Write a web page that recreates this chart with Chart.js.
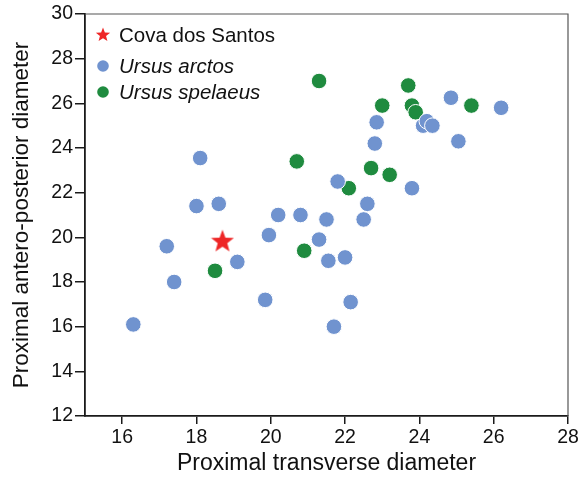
<!DOCTYPE html>
<html>
<head>
<meta charset="utf-8">
<script src="https://cdn.jsdelivr.net/npm/chart.js@4/dist/chart.umd.min.js"></script>
<style>
  html, body { margin: 0; padding: 0; background: #fff; }
  #wrap { width: 578px; height: 479px; }
</style>
</head>
<body>
<div id="wrap"><canvas id="chart" width="578" height="479"></canvas></div>
<script>
// Proximal transverse (x) vs antero-posterior (y) diameters, mm
const ARCTOS_X = [16.3, 17.2, 17.4, 18.1, 18.0, 18.6, 19.1, 19.85, 19.95, 20.2, 20.8, 21.5,
  21.3, 21.8, 22.6, 22.5, 22.85, 22.8, 23.8, 24.1, 24.2, 24.35, 24.85, 25.05, 26.2,
  21.55, 22.0, 22.15, 21.7];
const ARCTOS_Y = [16.1, 19.6, 18.0, 23.55, 21.4, 21.5, 18.9, 17.2, 20.1, 21.0, 21.0, 20.8,
  19.9, 22.5, 21.5, 20.8, 25.15, 24.2, 22.2, 25.0, 25.2, 25.0, 26.25, 24.3, 25.8,
  18.95, 19.1, 17.1, 16.0];

const SPELAEUS_X = [18.5, 20.9, 20.7, 21.3, 23.0, 23.7, 23.8, 23.9, 25.4, 22.7, 23.2, 22.1];
const SPELAEUS_Y = [18.5, 19.4, 23.4, 27.0, 25.9, 26.8, 25.9, 25.6, 25.9, 23.1, 22.8, 22.2];

const SANTOS_X = [18.7];
const SANTOS_Y = [19.85];

const X_TICKS = [16, 18, 20, 22, 24, 26, 28];
const Y_TICKS = [12, 14, 16, 18, 20, 22, 24, 26, 28, 30];

const BLUE = '#7093cf';
const GREEN = '#1f8b3f';
const RED = '#ee2626';
const AXIS = '#1a1a1a';
const FONT = "'Liberation Sans', Arial, sans-serif";

const toPoints = (xs, ys) => xs.map((x, i) => ({ x, y: ys[i] }));

function starPath(ctx, cx, cy, outer, inner) {
  ctx.beginPath();
  for (let i = 0; i < 10; i++) {
    const r = i % 2 === 0 ? outer : inner;
    const a = -Math.PI / 2 + i * Math.PI / 5;
    const px = cx + r * Math.cos(a);
    const py = cy + r * Math.sin(a);
    if (i === 0) ctx.moveTo(px, py); else ctx.lineTo(px, py);
  }
  ctx.closePath();
}

function makeStar(size) {
  const c = document.createElement('canvas');
  c.width = size; c.height = size;
  const g = c.getContext('2d');
  starPath(g, size / 2, size / 2 + size * 0.04, size / 2, size / 2 * 0.42);
  g.fillStyle = RED;
  g.fill();
  return c;
}

const bigStar = makeStar(24);

// top/right frame + in-plot legend
const extras = {
  id: 'extras',
  afterDraw(chart) {
    const { ctx, chartArea: a } = chart;
    ctx.save();
    ctx.strokeStyle = '#555';
    ctx.lineWidth = 1.2;
    ctx.beginPath();
    ctx.moveTo(a.left, a.top);
    ctx.lineTo(a.right, a.top);
    ctx.lineTo(a.right, a.bottom);
    ctx.stroke();

    const lx = 103, tx = 119;
    starPath(ctx, lx, 35, 7.5, 3.2);
    ctx.fillStyle = RED;
    ctx.fill();
    ctx.beginPath();
    ctx.arc(lx, 66, 5.8, 0, Math.PI * 2);
    ctx.fillStyle = BLUE;
    ctx.fill();
    ctx.beginPath();
    ctx.arc(lx, 92, 5.8, 0, Math.PI * 2);
    ctx.fillStyle = GREEN;
    ctx.fill();

    ctx.fillStyle = '#111';
    ctx.textBaseline = 'middle';
    ctx.font = '20.5px ' + FONT;
    ctx.fillText('Cova dos Santos', tx, 36);
    ctx.font = 'italic 20.5px ' + FONT;
    ctx.fillText('Ursus arctos', tx, 67);
    ctx.fillText('Ursus spelaeus', tx, 93);
    ctx.restore();
  }
};

new Chart(document.getElementById('chart'), {
  type: 'scatter',
  data: {
    datasets: [
      {
        label: 'Ursus spelaeus',
        data: toPoints(SPELAEUS_X, SPELAEUS_Y),
        backgroundColor: GREEN,
        borderColor: '#ffffff',
        borderWidth: 1,
        pointRadius: 7.8,
        order: 3,
      },
      {
        label: 'Ursus arctos',
        data: toPoints(ARCTOS_X, ARCTOS_Y),
        backgroundColor: BLUE,
        borderColor: '#ffffff',
        borderWidth: 1,
        pointRadius: 7.8,
        order: 2,
      },
      {
        label: 'Cova dos Santos',
        data: toPoints(SANTOS_X, SANTOS_Y),
        pointStyle: bigStar,
        order: 1,
      },
    ],
  },
  options: {
    responsive: false,
    animation: false,
    layout: { padding: { left: 0, right: 10, top: 14, bottom: 0 } },
    plugins: { legend: { display: false }, tooltip: { enabled: false } },
    scales: {
      x: {
        type: 'linear',
        min: 15,
        max: 28,
        afterBuildTicks: axis => { axis.ticks = X_TICKS.map(v => ({ value: v })); },
        afterFit: axis => {
          axis.height = 63;
          axis.paddingLeft = 0;
          axis.paddingRight = 10;
        },
        grid: { display: true, drawOnChartArea: false, drawTicks: true, tickLength: 8, color: AXIS, lineWidth: 1.5 },
        border: { display: true, color: AXIS, width: 1.8 },
        ticks: { color: '#111', font: { family: FONT, size: 19.5 }, padding: 2, maxRotation: 0 },
        title: { display: true, text: 'Proximal transverse diameter', color: '#111', font: { family: FONT, size: 23 }, padding: { top: 0, bottom: 2 } },
      },
      y: {
        type: 'linear',
        min: 12,
        max: 30,
        afterBuildTicks: axis => { axis.ticks = Y_TICKS.map(v => ({ value: v })); },
        afterFit: axis => { axis.width = 85; },
        grid: { display: true, drawOnChartArea: false, drawTicks: true, tickLength: 10, color: AXIS, lineWidth: 1.5 },
        border: { display: true, color: AXIS, width: 1.8 },
        ticks: { color: '#111', font: { family: FONT, size: 19.5 }, padding: 2 },
        title: { display: true, text: 'Proximal antero-posterior diameter', color: '#111', font: { family: FONT, size: 22.5 }, padding: { top: 8, bottom: 0 } },
      },
    },
  },
  plugins: [extras],
});
</script>
</body>
</html>
